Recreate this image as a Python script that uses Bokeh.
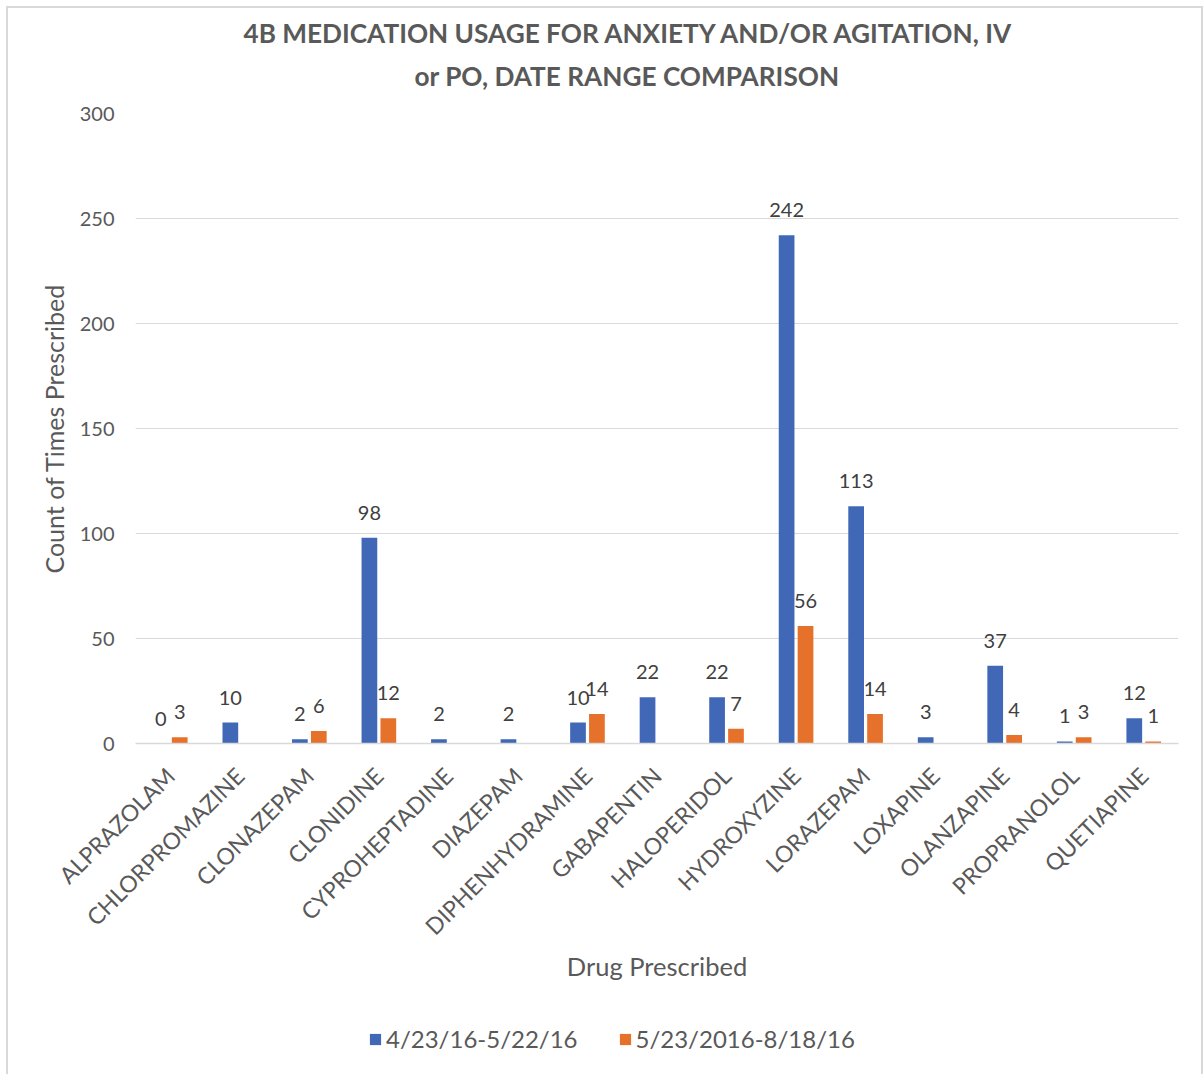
import math
from bokeh.plotting import figure
from bokeh.layouts import column
from bokeh.models import (FactorRange, Range1d, ColumnDataSource, Legend,
                          LegendItem, FixedTicker, Title)
from bokeh.transform import dodge
from bokeh.core.properties import value
from bokeh.embed import file_html
from bokeh.resources import INLINE

# ---- data -------------------------------------------------------------
drugs = ["ALPRAZOLAM", "CHLORPROMAZINE", "CLONAZEPAM", "CLONIDINE",
         "CYPROHEPTADINE", "DIAZEPAM", "DIPHENHYDRAMINE", "GABAPENTIN",
         "HALOPERIDOL", "HYDROXYZINE", "LORAZEPAM", "LOXAPINE",
         "OLANZAPINE", "PROPRANOLOL", "QUETIAPINE"]
period_a = [0, 10, 2, 98, 2, 2, 10, 22, 22, 242, 113, 3, 37, 1, 12]
period_b = [3, None, 6, 12, None, None, 14, None, 7, 56, 14, None, 4, 3, 1]
series_names = ["4/23/16-5/22/16", "5/23/2016-8/18/16"]
y_ticks = [0, 50, 100, 150, 200, 250, 300]

title_lines = ["4B MEDICATION USAGE FOR ANXIETY AND/OR AGITATION, IV",
               "or PO, DATE RANGE COMPARISON"]
x_title = "Drug Prescribed"
y_title = "Count of Times Prescribed"

# ---- styling ----------------------------------------------------------
FONT = "Lato"
BLUE = "#4068B6"
ORANGE = "#E5712B"
TEXT = "#595959"
LABEL_TEXT = "#404040"
GRID = "#D9D9D9"

W = 1193
H_CHART, H_LEGEND = 1002, 64
FRAME_L, FRAME_T, FRAME_R, FRAME_B = 127, 105, 1170, 735  # within canvas


def source_for(values):
    rows = [(d, v) for d, v in zip(drugs, values) if v is not None]
    return ColumnDataSource(dict(
        drug=[r[0] for r in rows],
        count=[r[1] for r in rows],
        label=[str(r[1]) for r in rows],
    ))


p = figure(x_range=FactorRange(factors=drugs), y_range=Range1d(0, 300),
           width=W, height=H_CHART, output_backend="svg", toolbar_location=None,
           min_border_left=FRAME_L, min_border_top=FRAME_T,
           min_border_right=W - FRAME_R, min_border_bottom=H_CHART - FRAME_B)
p.outline_line_color = None
p.background_fill_color = "white"
p.border_fill_color = "white"

OFF = 0.136
BW = 0.226
src_a = source_for(period_a)
src_b = source_for(period_b)

ra = p.vbar(x=dodge("drug", -OFF, range=p.x_range), top="count", width=BW,
            source=src_a, fill_color=BLUE, line_color=None)
rb = p.vbar(x=dodge("drug", OFF, range=p.x_range), top="count", width=BW,
            source=src_b, fill_color=ORANGE, line_color=None)

for src, off in ((src_a, -OFF), (src_b, OFF)):
    p.text(x=dodge("drug", off, range=p.x_range), y="count", text="label",
           source=src, text_align="center", text_baseline="alphabetic",
           y_offset=-25, text_font=value(FONT), text_font_size="20px",
           text_color=LABEL_TEXT)

# axes
p.xgrid.grid_line_color = None
p.ygrid.grid_line_color = GRID
p.ygrid.grid_line_width = 1.2
p.yaxis.ticker = FixedTicker(ticks=y_ticks)
p.yaxis.axis_line_color = None
p.yaxis.major_tick_line_color = None
p.yaxis.minor_tick_line_color = None
p.yaxis.major_label_standoff = 15
p.yaxis.major_label_text_font = FONT
p.yaxis.major_label_text_font_size = "20px"
p.yaxis.major_label_text_color = TEXT
p.yaxis.axis_label = y_title
p.yaxis.axis_label_standoff = 8
p.yaxis.axis_label_text_font = FONT
p.yaxis.axis_label_text_font_size = "25px"
p.yaxis.axis_label_text_font_style = "normal"
p.yaxis.axis_label_text_color = TEXT

p.xaxis.axis_line_color = GRID
p.xaxis.axis_line_width = 1.6
p.xaxis.major_tick_line_color = None
p.xaxis.minor_tick_line_color = None
p.xaxis.major_label_orientation = math.pi / 4
p.xaxis.major_label_standoff = 22
p.xaxis.major_label_text_font = FONT
p.xaxis.major_label_text_font_size = "23px"
p.xaxis.major_label_text_color = TEXT
p.xaxis.axis_label = x_title
p.xaxis.axis_label_standoff = -2
p.xaxis.axis_label_text_font = FONT
p.xaxis.axis_label_text_font_size = "25.5px"
p.xaxis.axis_label_text_font_style = "normal"
p.xaxis.axis_label_text_color = TEXT

# two-line title, lower line nearest the plot
for line, offset, standoff in ((title_lines[1], 279, 43), (title_lines[0], 108, -25)):
    p.add_layout(Title(text=line, align="left", offset=offset,
                       text_font=FONT, text_font_size="26.2px",
                       text_font_style="bold", text_color=TEXT,
                       standoff=standoff), "above")

# legend strip under the chart; the swatch renderers keep the series colours
# for the legend, while every row they hold is drawn fully transparent
lf = figure(width=W, height=H_LEGEND, x_range=p.x_range,
            y_range=Range1d(-2, -1), output_backend="svg",
            toolbar_location=None, min_border=0, outline_line_color=None)
lf.axis.visible = False
lf.grid.visible = False
swatches = []
for vals, colour in ((period_a, BLUE), (period_b, ORANGE)):
    sw_src = source_for(vals)
    sw_src.selected.indices = [0]
    swatches.append(lf.vbar(x="drug", top=0, bottom=0, width=BW, source=sw_src,
                            fill_color=colour, line_color=None,
                            selection_fill_alpha=0, selection_line_alpha=0,
                            nonselection_fill_alpha=0, nonselection_line_alpha=0))
legend = Legend(items=[LegendItem(label=series_names[0], renderers=[swatches[0]]),
                       LegendItem(label=series_names[1], renderers=[swatches[1]])],
                orientation="horizontal", location=(233, 21),
                glyph_width=14, glyph_height=14, label_standoff=4, spacing=40,
                padding=0, margin=0, border_line_color=None,
                background_fill_alpha=0, label_text_font=FONT,
                label_text_font_size="24px", label_text_color=TEXT)
lf.add_layout(legend, "center")

page = column(p, lf, spacing=0)
page.styles = {"border-top": "2px solid #D9D9D9", "border-left": "2px solid #D9D9D9",
               "border-right": "2px solid #D9D9D9",
               "margin-left": "6px", "margin-top": "6px"}

open("out.html", "w").write(file_html(page, INLINE))
